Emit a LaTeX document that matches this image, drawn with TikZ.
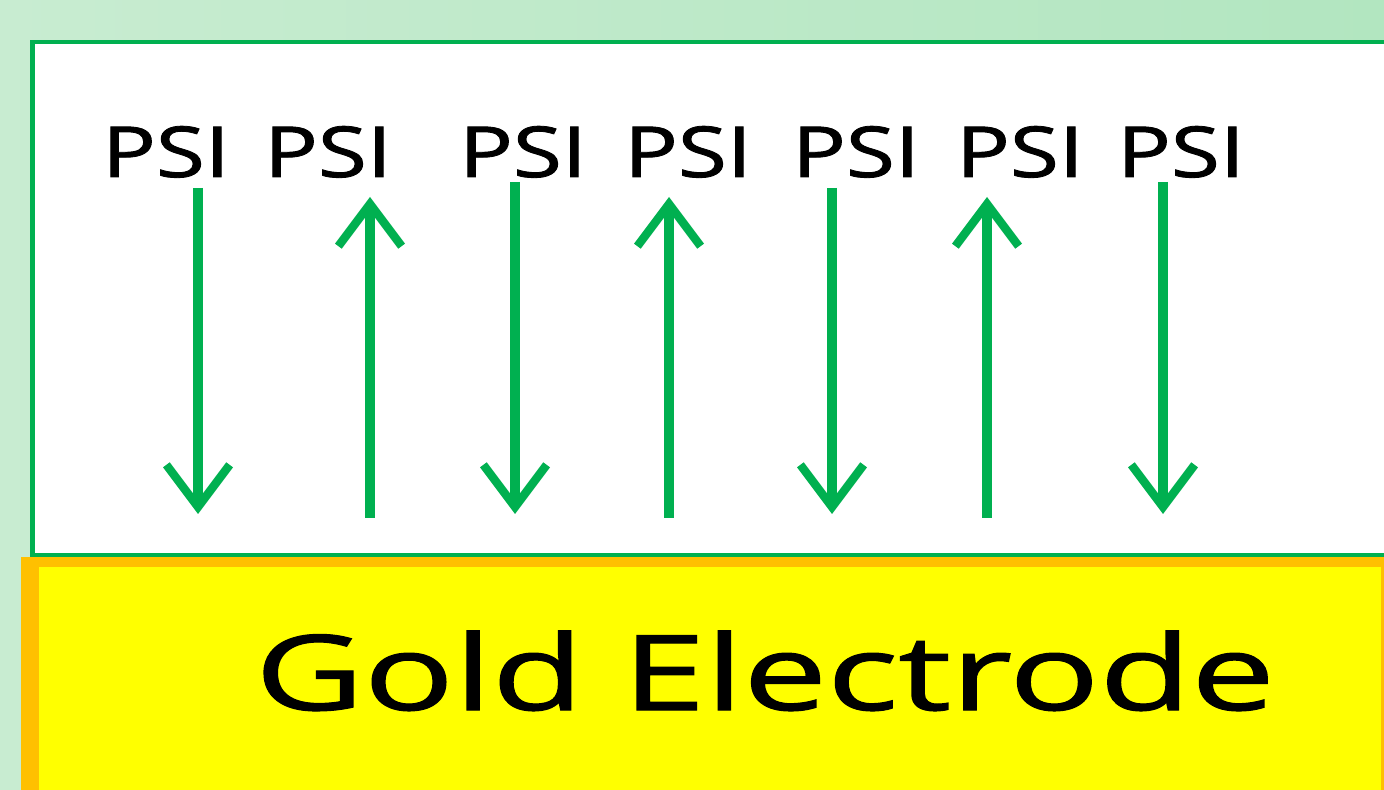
\documentclass[tikz,border=0pt]{standalone}
\usepackage{fontspec}
\setmainfont{Open Sans}
\newfontfamily\psifont[FakeBold=1.2]{Open Sans}
\newfontfamily\goldfont[FakeBold=1.0]{Open Sans}
\usetikzlibrary{arrows.meta}
\definecolor{psigreen}{HTML}{00B050}
\definecolor{bggreenA}{HTML}{C8ECD1}
\definecolor{bggreenB}{HTML}{B2E6C0}
\definecolor{goldfill}{HTML}{FFFF00}
\definecolor{goldedge}{HTML}{FFC000}

\begin{document}
\begin{tikzpicture}[x=0.02cm,y=-0.02cm,
  psi/.style={font=\psifont\fontsize{40}{40}\selectfont, anchor=base, inner sep=0pt},
  flow/.style={psigreen, line width=5.3pt, -{Straight Barb[length=24pt,width=36pt,line width=4.8pt]}}]
\useasboundingbox (0,0) rectangle (1384,790);
\clip (0,0) rectangle (1384,790);
\shade[left color=bggreenA, right color=bggreenB] (0,0) rectangle (1384,790);
% layer and electrode
\draw[psigreen, line width=2.3pt, fill=white] (32.5,42) rectangle (1420,555);
\fill[goldedge] (21,557) rectangle (1384,800);
\fill[goldfill] (39,567) rectangle (1381,800);
\node[anchor=base, inner sep=0pt, font=\goldfont\fontsize{59.5}{60}\selectfont] (gold) at (765,710) {\scalebox{1.43}[1]{Gold Electrode}};
% PSI labels
\foreach \n/\x in {1/166, 2/328, 3/523, 4/688, 5/856, 6/1020, 7/1181}
  \node[psi] (psi\n) at (\x,177) {\scalebox{1.27}[1]{PSI}};
% electron flow
\foreach \x/\t in {198/188, 515/182, 832/188, 1163/182} {
  \coordinate (dtop\x) at (\x,\t);
  \coordinate (dbot\x) at (\x,514);
  \draw[flow] (dtop\x) -- (dbot\x);
}
\foreach \x in {370, 669, 987} {
  \coordinate (ubot\x) at (\x,518);
  \coordinate (utop\x) at (\x,197);
  \draw[flow] (ubot\x) -- (utop\x);
}
\end{tikzpicture}
\end{document}
